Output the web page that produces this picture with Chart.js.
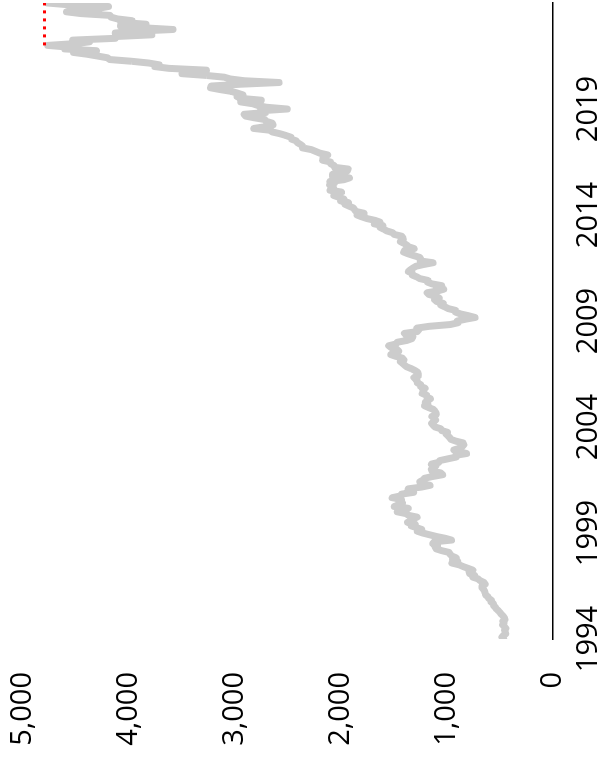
<!DOCTYPE html>
<html>
<head>
<meta charset="utf-8">
<script src="https://cdn.jsdelivr.net/npm/chart.js@4/dist/chart.umd.min.js"></script>
<style>
  html, body { margin: 0; padding: 0; background: #fff; overflow: hidden; }
  /* chart is drawn landscape, then turned a quarter to the left */
  #wrap {
    position: absolute; left: 0; top: 0;
    width: 762px; height: 606px;
    transform-origin: 0 0;
    transform: translate(0, 762px) rotate(-90deg);
  }
</style>
</head>
<body>
<div id="wrap"><canvas id="chart" width="762" height="606"></canvas></div>
<script>
const startYear = 1994;
const endYear = 2024;
const yearTicks = [1994, 1999, 2004, 2009, 2014, 2019];
const valueTicks = [0, 1000, 2000, 3000, 4000, 5000];
const recordClose = 4796.56;

// S&P 500 month-end closes, first value is Dec 1993
const closes = [
  466.45,
  481.61, 467.14, 445.77, 450.91, 456.50, 444.27, 458.26, 475.49, 462.69, 472.35, 453.69, 459.27,     // 1994
  470.42, 487.39, 500.71, 514.71, 533.40, 544.75, 562.06, 561.88, 584.41, 581.50, 605.37, 615.93,     // 1995
  636.02, 640.43, 645.50, 654.17, 669.12, 670.63, 639.95, 651.99, 687.33, 705.27, 757.02, 740.74,     // 1996
  786.16, 790.82, 757.12, 801.34, 848.28, 885.14, 954.31, 899.47, 947.28, 914.62, 955.40, 970.43,     // 1997
  980.28, 1049.34, 1101.75, 1111.75, 1090.82, 1133.84, 1120.67, 957.28, 1017.01, 1098.67, 1163.63, 1229.23, // 1998
  1279.64, 1238.33, 1286.37, 1335.18, 1301.84, 1372.71, 1328.72, 1320.41, 1282.71, 1362.93, 1388.91, 1469.25, // 1999
  1394.46, 1366.42, 1498.58, 1452.43, 1420.60, 1454.60, 1430.83, 1517.68, 1436.51, 1429.40, 1314.95, 1320.28, // 2000
  1366.01, 1239.94, 1160.33, 1249.46, 1255.82, 1224.42, 1211.23, 1133.58, 1040.94, 1059.78, 1139.45, 1148.08, // 2001
  1130.20, 1106.73, 1147.39, 1076.92, 1067.14, 989.82, 911.62, 916.07, 815.28, 885.76, 936.31, 879.82,       // 2002
  855.70, 841.15, 848.18, 916.92, 963.59, 974.50, 990.31, 1008.01, 995.97, 1050.71, 1058.20, 1111.92,        // 2003
  1131.13, 1144.94, 1126.21, 1107.30, 1120.68, 1140.84, 1101.72, 1104.24, 1114.58, 1130.20, 1173.82, 1211.92, // 2004
  1181.27, 1203.60, 1180.59, 1156.85, 1191.50, 1191.33, 1234.18, 1220.33, 1228.81, 1207.01, 1249.48, 1248.29, // 2005
  1280.08, 1280.66, 1294.83, 1310.61, 1270.09, 1270.20, 1276.66, 1303.82, 1335.85, 1377.94, 1400.63, 1418.30, // 2006
  1438.24, 1406.82, 1420.86, 1482.37, 1530.62, 1503.35, 1455.27, 1473.99, 1526.75, 1549.38, 1481.14, 1468.36, // 2007
  1378.55, 1330.63, 1322.70, 1385.59, 1400.38, 1280.00, 1267.38, 1282.83, 1166.36, 968.75, 896.24, 903.25,   // 2008
  825.88, 735.09, 797.87, 872.81, 919.14, 919.32, 987.48, 1020.62, 1057.08, 1036.19, 1095.63, 1115.10,       // 2009
  1073.87, 1104.49, 1169.43, 1186.69, 1089.41, 1030.71, 1101.60, 1049.33, 1141.20, 1183.26, 1180.55, 1257.64, // 2010
  1286.12, 1327.22, 1325.83, 1363.61, 1345.20, 1320.64, 1292.28, 1218.89, 1131.42, 1253.30, 1246.96, 1257.60, // 2011
  1312.41, 1365.68, 1408.47, 1397.91, 1310.33, 1362.16, 1379.32, 1406.58, 1440.67, 1412.16, 1416.18, 1426.19, // 2012
  1498.11, 1514.68, 1569.19, 1597.57, 1630.74, 1606.28, 1685.73, 1632.97, 1681.55, 1756.54, 1805.81, 1848.36, // 2013
  1782.59, 1859.45, 1872.34, 1883.95, 1923.57, 1960.23, 1930.67, 2003.37, 1972.29, 2018.05, 2067.56, 2058.90, // 2014
  1994.99, 2104.50, 2067.89, 2085.51, 2107.39, 2063.11, 2103.84, 1972.18, 1920.03, 2079.36, 2080.41, 2043.94, // 2015
  1940.24, 1932.23, 2059.74, 2065.30, 2096.95, 2098.86, 2173.60, 2170.95, 2168.27, 2126.15, 2198.81, 2238.83, // 2016
  2278.87, 2363.64, 2362.72, 2384.20, 2411.80, 2423.41, 2470.30, 2471.65, 2519.36, 2575.26, 2647.58, 2673.61, // 2017
  2823.81, 2713.83, 2640.87, 2648.05, 2705.27, 2718.37, 2816.29, 2901.52, 2913.98, 2711.74, 2760.17, 2506.85, // 2018
  2704.10, 2784.49, 2834.40, 2945.83, 2752.06, 2941.76, 2980.38, 2926.46, 2976.74, 3037.56, 3140.98, 3230.78, // 2019
  3225.52, 2954.22, 2584.59, 2912.43, 3044.31, 3100.29, 3271.12, 3500.31, 3363.00, 3269.96, 3621.63, 3756.07, // 2020
  3714.24, 3811.15, 3972.89, 4181.17, 4204.11, 4297.50, 4395.26, 4522.68, 4307.54, 4605.38, 4567.00, 4766.18, // 2021
  4515.55, 4373.94, 4530.41, 4131.93, 4132.15, 3785.38, 4130.29, 3955.00, 3585.62, 3871.98, 4080.11, 3839.50, // 2022
  4076.60, 3970.15, 4109.31, 4169.48, 4179.83, 4450.38, 4588.96, 4507.66, 4288.05, 4193.80, 4567.80, 4769.83  // 2023
];

const points = closes.map((v, i) => ({ x: startYear + i / 12, y: v }));
// dotted line: previous record level, from the 2021 top to the last month
const peakIdx = closes.indexOf(Math.max(...closes.slice(0, 337)));
const recordLine = [
  { x: startYear + peakIdx / 12, y: recordClose },
  { x: endYear, y: recordClose }
];

const tickFont = { family: '"Open Sans", sans-serif', size: 29 };

new Chart(document.getElementById('chart'), {
  type: 'line',
  data: {
    datasets: [
      {
        data: recordLine,
        borderColor: '#ff0000',
        borderWidth: 3,
        borderDash: [3, 5],
        pointRadius: 0
      },
      {
        data: points,
        borderColor: '#cccccc',
        borderWidth: 7,
        borderCapStyle: 'round',
        borderJoinStyle: 'round',
        pointRadius: 0,
        tension: 0
      }
    ]
  },
  options: {
    responsive: false,
    animation: false,
    devicePixelRatio: 1,
    layout: { padding: { top: 0, right: 3, left: 0, bottom: 0 } },
    plugins: { legend: { display: false }, tooltip: { enabled: false } },
    scales: {
      x: {
        type: 'linear',
        min: startYear,
        max: endYear,
        grid: { display: false, drawTicks: false },
        border: { display: true, color: '#000', width: 1.5 },
        afterBuildTicks: axis => { axis.ticks = yearTicks.map(v => ({ value: v })); },
        afterFit: axis => { axis.height = 53; },
        ticks: {
          font: tickFont,
          color: '#000',
          padding: 18,
          maxRotation: 0,
          autoSkip: false,
          callback: v => String(v)
        }
      },
      y: {
        min: 0,
        max: 5000,
        grid: { display: false, drawTicks: false },
        border: { display: false },
        afterBuildTicks: axis => { axis.ticks = valueTicks.map(v => ({ value: v })); },
        afterFit: axis => {
          axis.width = 123;
          axis.paddingTop = 23;
          axis.paddingBottom = 0;
        },
        ticks: {
          font: tickFont,
          color: '#000',
          padding: 33,
          callback: v => v.toLocaleString('en-US')
        }
      }
    }
  }
});
</script>
</body>
</html>
